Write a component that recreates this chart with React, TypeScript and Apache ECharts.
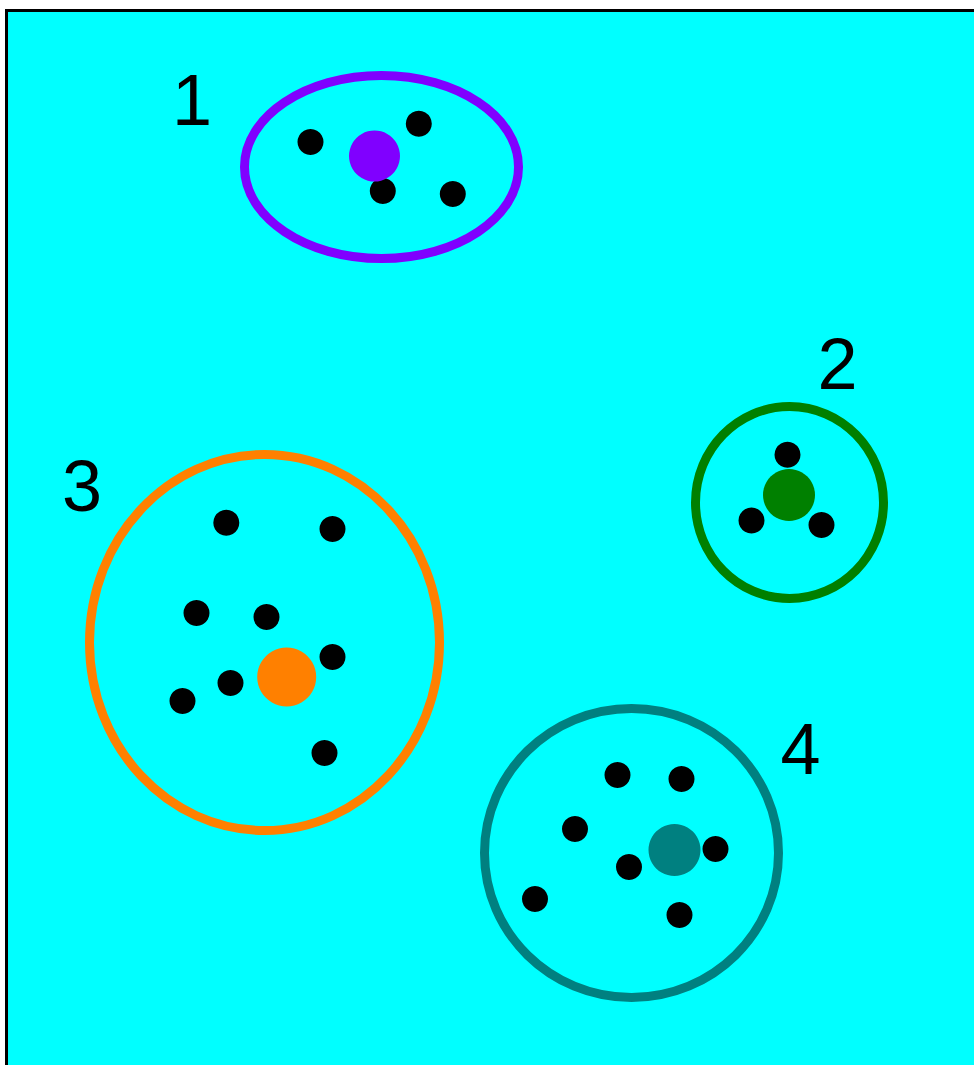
import React, { useEffect, useRef } from "react";
import * as echarts from "echarts";

// Plot coordinates (x right, y down), origin at the plot's inner top-left corner.
const clusterIds = ["1", "2", "3", "4"];

// Ellipse outlines per cluster: [cx, cy, rx, ry]
const clusterEllipses: number[][] = [
  [373.5, 155, 137, 91.5],
  [781.5, 490.5, 94, 96],
  [256.5, 630.5, 175, 188],
  [623.5, 841, 147, 144.5],
];

// Cluster centroids: [x, y]
const centroids: number[][] = [
  [366.5, 144],
  [781, 483],
  [278.7, 665],
  [666.5, 838],
];

// Member points per cluster
const cluster1Points: number[][] = [
  [302.5, 130],
  [410.8, 111.8],
  [374.8, 179],
  [444.8, 182],
];
const cluster2Points: number[][] = [
  [779.5, 442.7],
  [743.5, 508.5],
  [813.5, 513],
];
const cluster3Points: number[][] = [
  [218.3, 510.7],
  [324.5, 517],
  [188.5, 601],
  [258.5, 605],
  [324.5, 645],
  [222.5, 671],
  [174.5, 689],
  [316.5, 741],
];
const cluster4Points: number[][] = [
  [609.5, 763],
  [673.5, 767],
  [567, 817],
  [707.5, 837],
  [621, 855],
  [527, 887],
  [671.5, 903],
];

// Label anchor positions per cluster: [x, y]
const labelPositions: number[][] = [
  [184, 87.5],
  [829.5, 352],
  [74, 474],
  [792.5, 737],
];

// Styles
const clusterColors = ["#8000FF", "#008000", "#FF8000", "#008080"];
const centroidSizes = [51, 52, 59, 52];

export default function App() {
  const ref = useRef<HTMLDivElement>(null);

  useEffect(() => {
    if (!ref.current) return;
    const chart = echarts.init(ref.current, null, { renderer: "svg" });

    const allPoints = [
      ...cluster1Points,
      ...cluster2Points,
      ...cluster3Points,
      ...cluster4Points,
    ];

    const option: any = {
      animation: false,
      backgroundColor: "#ffffff",
      grid: {
        left: 8,
        top: 12,
        right: 0,
        bottom: 0,
        show: true,
        backgroundColor: "#00FFFF",
        borderWidth: 0,
        containLabel: false,
        outerBoundsMode: "none",
      },
      xAxis: {
        type: "value",
        min: 0,
        max: 966,
        show: false,
        splitLine: { show: false },
      },
      yAxis: {
        type: "value",
        inverse: true,
        min: 0,
        max: 1053,
        show: false,
        splitLine: { show: false },
      },
      graphic: [
        {
          type: "rect",
          silent: true,
          z: 100,
          shape: { x: 5, y: 9, width: 3, height: 1056 },
          style: { fill: "#000000" },
        },
        {
          type: "rect",
          silent: true,
          z: 100,
          shape: { x: 5, y: 9, width: 969, height: 3 },
          style: { fill: "#000000" },
        },
      ],
      series: [
        {
          type: "custom",
          silent: true,
          z: 1,
          data: clusterEllipses,
          renderItem: (params: any, api: any) => {
            const c = api.coord([api.value(0), api.value(1)]);
            const s = api.size([api.value(2), api.value(3)]);
            return {
              type: "ellipse",
              shape: { cx: c[0], cy: c[1], rx: s[0], ry: s[1] },
              style: {
                fill: "none",
                stroke: clusterColors[params.dataIndex],
                lineWidth: 9,
              },
            };
          },
        },
        {
          type: "scatter",
          silent: true,
          z: 2,
          symbol: "circle",
          symbolSize: 26,
          itemStyle: { color: "#000000", opacity: 1 },
          data: allPoints,
        },
        {
          type: "scatter",
          silent: true,
          z: 3,
          symbol: "circle",
          symbolSize: (_v: any, p: any) => centroidSizes[p.dataIndex],
          itemStyle: {
            color: (p: any) => clusterColors[p.dataIndex],
            opacity: 1,
          },
          data: centroids,
        },
        {
          type: "custom",
          silent: true,
          z: 4,
          data: labelPositions,
          renderItem: (params: any, api: any) => {
            const c = api.coord([api.value(0), api.value(1)]);
            return {
              type: "text",
              x: c[0],
              y: c[1],
              style: {
                text: clusterIds[params.dataIndex],
                fontSize: 72,
                fontFamily: "'Liberation Sans', Arial, sans-serif",
                fill: "#000000",
                align: "center",
                verticalAlign: "middle",
              },
            };
          },
        },
      ],
    };

    chart.setOption(option);
    return () => {
      chart.dispose();
    };
  }, []);

  return (
    <div
      ref={ref}
      style={{
        position: "fixed",
        left: 0,
        top: 0,
        width: 974,
        height: 1065,
      }}
    />
  );
}
